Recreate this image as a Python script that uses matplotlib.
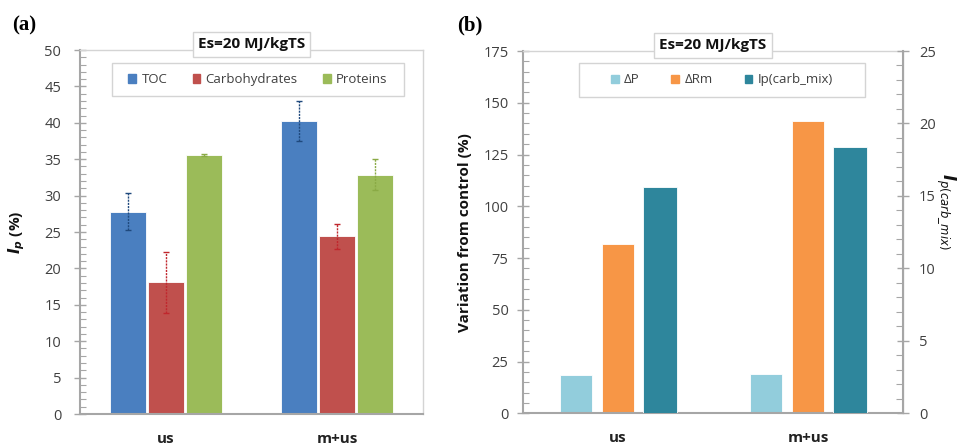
"""Ip of TOC / carbohydrates / proteins and variation from control, Es=20 MJ/kgTS."""
import numpy as np
import matplotlib
matplotlib.use("Agg")
import matplotlib.pyplot as plt
from matplotlib.patches import Patch, Rectangle
from matplotlib.ticker import MultipleLocator

# ── data ─────────────────────────────────────────────────────────────────────
categories = ["us", "m+us"]

# panel (a)
series_a   = ["TOC", "Carbohydrates", "Proteins"]
toc        = [27.8, 40.3]
toc_err    = [2.5, 2.75]
carb       = [18.1, 24.4]
carb_err   = [4.2, 1.7]
prot       = [35.6, 32.9]
prot_err   = [0.15, 2.1]

# panel (b)
series_b   = ["ΔP", "ΔRm", "Ip(carb_mix)"]
delta_p    = [18.5, 19.0]
delta_rm   = [81.6, 141.1]
ip_carb    = [15.6, 18.4]     # secondary axis

# ── palette ───────────────────────────────────────────────────────────────────
BLUE   = "#4a7fc0"
RED    = "#c0504d"
GREEN  = "#9bbb59"
LBLUE  = "#92cddc"
ORANGE = "#f79646"
TEAL   = "#2e869c"
AXIS   = "#a6a6a6"
BOX    = "#d4d4d4"
TXT    = "#404040"
FONT   = "Open Sans"

plt.rcParams["font.family"] = [FONT, "DejaVu Sans"]

fig = plt.figure(figsize=(9.59, 4.47), dpi=100, facecolor="white")
ax_a = fig.add_axes([0.0834, 0.0738, 0.3577, 0.8143])
ax_b = fig.add_axes([0.5454, 0.0754, 0.3962, 0.8105])
ax_c = ax_b.twinx()

x = np.arange(len(categories))


def style_axis(ax, pad):
    for side in ("top", "right"):
        ax.spines[side].set_color(BOX)
        ax.spines[side].set_linewidth(1.0)
    ax.spines["left"].set_color(AXIS)
    ax.spines["bottom"].set_color(AXIS)
    ax.spines["left"].set_linewidth(1.5)
    ax.spines["bottom"].set_linewidth(1.5)
    ax.tick_params(axis="y", which="major", direction="inout", length=9,
                   width=1.0, color=AXIS, labelsize=10.5, labelcolor=TXT, pad=pad)
    ax.tick_params(axis="y", which="minor", direction="in", length=4,
                   width=0.8, color=AXIS)
    ax.tick_params(axis="x", length=0, pad=13)
    ax.set_xticks(x)
    ax.set_xticklabels(categories, fontsize=11, fontweight="bold", color="#222222")
    ax.set_xlim(-0.5, 1.5)


def title_box(ax, y):
    ax.text(0.5, y, "Es=20 MJ/kgTS", transform=ax.transAxes, ha="center",
            va="center", fontsize=11, fontweight="bold", color="#111111",
            bbox=dict(boxstyle="square,pad=0.35", fc="white", ec=BOX, lw=1.0),
            zorder=10)


def boxed_legend(ax, handles, labels, box, colsp):
    x0, y0, w, h = box
    ax.add_patch(Rectangle((x0, y0), w, h, transform=ax.transAxes, fc="white",
                           ec=BOX, lw=1.0, zorder=8, clip_on=False))
    leg = ax.legend(handles, labels, ncol=3, loc="center",
                    bbox_to_anchor=(x0 + w / 2, y0 + h / 2), fontsize=9.5,
                    labelcolor=TXT, frameon=False, handlelength=0.6,
                    handleheight=0.6, handletextpad=0.4, columnspacing=colsp,
                    borderaxespad=0)
    leg.set_zorder(9)


# ── panel (a) ─────────────────────────────────────────────────────────────────
wa, da = 0.21, 0.2216
for off, vals, errs, col, ecol, lab in [
        (-da, toc,  toc_err,  BLUE,  "#1f497d", series_a[0]),
        (0.0, carb, carb_err, RED,   "#c0272d", series_a[1]),
        (da,  prot, prot_err, GREEN, "#8aaa45", series_a[2])]:
    ax_a.bar(x + off, vals, width=wa, color=col, edgecolor="white",
             linewidth=0.6, label=lab, zorder=2)
    eb = ax_a.errorbar(x + off, vals, yerr=errs, fmt="none", ecolor=ecol,
                       elinewidth=1.0, capsize=2.5, capthick=1.0, zorder=3)
    eb[-1][0].set_linestyle((0, (1.5, 0.8)))

ax_a.set_ylim(0, 50)
ax_a.yaxis.set_major_locator(MultipleLocator(5))
ax_a.yaxis.set_minor_locator(MultipleLocator(1))
style_axis(ax_a, pad=9)
ax_a.set_ylabel(r"$\mathbfit{I_p}$ (%)", fontsize=11, fontweight="bold",
                color="#111111")
ax_a.yaxis.set_label_coords(-0.155, 0.5)
title_box(ax_a, 1.016)

boxed_legend(ax_a, [Patch(color=c) for c in (BLUE, RED, GREEN)], series_a,
             (0.093, 0.874, 0.852, 0.09), 1.9)

# ── panel (b) ─────────────────────────────────────────────────────────────────
wb, db = 0.168, 0.22
ax_b.bar(x - db, delta_p,  width=wb, color=LBLUE,  edgecolor="white", linewidth=0.6, zorder=2)
ax_b.bar(x,      delta_rm, width=wb, color=ORANGE, edgecolor="white", linewidth=0.6, zorder=2)
ax_c.bar(x + db, ip_carb,  width=wb * 1.05, color=TEAL, edgecolor="white", linewidth=0.6, zorder=2)

ax_b.set_ylim(0, 175)
ax_b.yaxis.set_major_locator(MultipleLocator(25))
ax_b.yaxis.set_minor_locator(MultipleLocator(5))
style_axis(ax_b, pad=6)
ax_b.set_ylabel("Variation from control (%)", fontsize=11, fontweight="bold",
                color="#111111")
ax_b.yaxis.set_label_coords(-0.135, 0.5)

ax_c.set_ylim(0, 25)
ax_c.yaxis.set_major_locator(MultipleLocator(5))
ax_c.yaxis.set_minor_locator(MultipleLocator(1))
ax_c.spines["right"].set_color(AXIS)
ax_c.spines["right"].set_linewidth(1.5)
ax_c.spines["top"].set_visible(False)
ax_c.spines["left"].set_visible(False)
ax_c.spines["bottom"].set_visible(False)
ax_c.tick_params(axis="y", which="major", direction="inout", length=9,
                 width=1.0, color=AXIS, labelsize=10.5, labelcolor=TXT, pad=7)
ax_c.tick_params(axis="y", which="minor", direction="in", length=5,
                 width=0.8, color=AXIS)
ax_c.set_ylabel(r"$\mathbfit{I}_{\mathit{p(carb\_mix)}}$", fontsize=12,
                rotation=-90, color="#111111", ha="center", va="center",
                rotation_mode="anchor")
ax_c.yaxis.set_label_coords(1.113, 0.556)
title_box(ax_c, 1.016)

boxed_legend(ax_c, [Patch(color=c) for c in (LBLUE, ORANGE, TEAL)], series_b,
             (0.147, 0.873, 0.753, 0.094), 2.4)

# ── panel letters ─────────────────────────────────────────────────────────────
fig.text(0.013, 0.944, "(a)", fontsize=15, fontweight="bold",
         family="Liberation Serif", va="center")
fig.text(0.477, 0.944, "(b)", fontsize=15, fontweight="bold",
         family="Liberation Serif", va="center")

plt.savefig("out.png", dpi=100, facecolor="white")
plt.close()
